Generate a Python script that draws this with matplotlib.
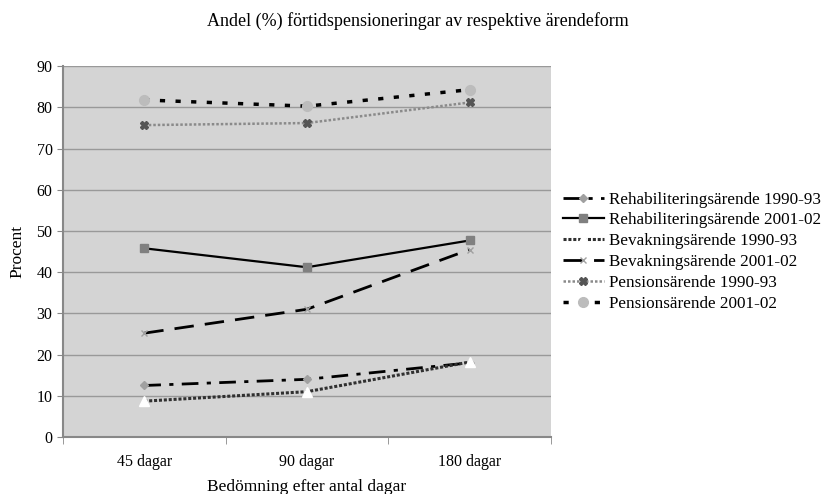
import matplotlib
matplotlib.use('Agg')
import matplotlib.pyplot as plt

plt.rcParams['font.family'] = ['Liberation Serif', 'DejaVu Serif']

categories = ['45 dagar', '90 dagar', '180 dagar']
rehab_9093 = [12.5, 14.0, 18.0]
rehab_0102 = [45.8, 41.2, 47.7]
bevak_9093 = [8.7, 11.0, 18.2]
bevak_0102 = [25.2, 31.0, 45.5]
pension_9093 = [75.7, 76.2, 81.2]
pension_0102 = [81.8, 80.3, 84.3]

series = [
    ('Rehabiliteringsärende 1990-93', rehab_9093,
     dict(color='black', lw=2, ls=(0, (6, 3, 1.5, 3)), marker='D', ms=4.5, mfc='#a0a0a0', mec='#a0a0a0')),
    ('Rehabiliteringsärende 2001-02', rehab_0102,
     dict(color='black', lw=1.6, ls='-', marker='s', ms=5.5, mfc='#808080', mec='#808080')),
    ('Bevakningsärende 1990-93', bevak_9093,
     dict(color='#303030', lw=2.2, ls=(0, (1, 0.6)), marker='^', ms=6.5, mfc='white', mec='white')),
    ('Bevakningsärende 2001-02', bevak_0102,
     dict(color='black', lw=2, ls=(0, (7, 4)), marker='x', ms=5, mfc='#a0a0a0', mec='#a0a0a0')),
    ('Pensionsärende 1990-93', pension_9093,
     dict(color='#8a8a8a', lw=1.8, ls=(0, (1, 0.8)), marker='X', ms=6, mfc='#555555', mec='#555555')),
    ('Pensionsärende 2001-02', pension_0102,
     dict(color='black', lw=2.5, ls=(0, (1.5, 3)), marker='o', ms=7, mfc='#bcbcbc', mec='#bcbcbc')),
]

fig = plt.figure(figsize=(8.35, 4.94), dpi=100)
ax = fig.add_axes([0.0754, 0.1154, 0.5844, 0.7506])
ax.set_facecolor('#d4d4d4')

x = list(range(len(categories)))
for name, vals, style in series:
    ax.plot(x, vals, label=name, **style)

ax.set_xlim(-0.5, 2.5)
ax.set_ylim(0, 90)
ax.set_yticks(range(0, 91, 10))
ax.set_xticks(x)
ax.set_xticklabels(categories)
ax.grid(axis='y', color='#999999', lw=1)
ax.set_axisbelow(True)
for s in ['top', 'right']:
    ax.spines[s].set_visible(False)
for s in ['left', 'bottom']:
    ax.spines[s].set_color('#888888')
    ax.spines[s].set_linewidth(1.5)
ax.tick_params(labelsize=11.5, color='#888888', length=4)
ax.set_xticks([-0.5, 0.5, 1.5, 2.5], minor=True)
ax.tick_params(axis='x', which='major', length=0, pad=12)
ax.tick_params(axis='x', which='minor', length=5, color='#888888')

ax.set_ylabel('Procent', fontsize=12.5, labelpad=8)
ax.set_xlabel('Bedömning efter antal dagar', fontsize=12.5, labelpad=7)
fig.suptitle('Andel (%) förtidspensioneringar av respektive ärendeform', fontsize=13, y=0.975)

ax.legend(loc='center left', bbox_to_anchor=(1.0, 0.5), frameon=False, fontsize=12.3,
          handlelength=2.4, handletextpad=0.3, labelspacing=0.28, borderaxespad=0.3)

fig.savefig('out.png', dpi=100)
